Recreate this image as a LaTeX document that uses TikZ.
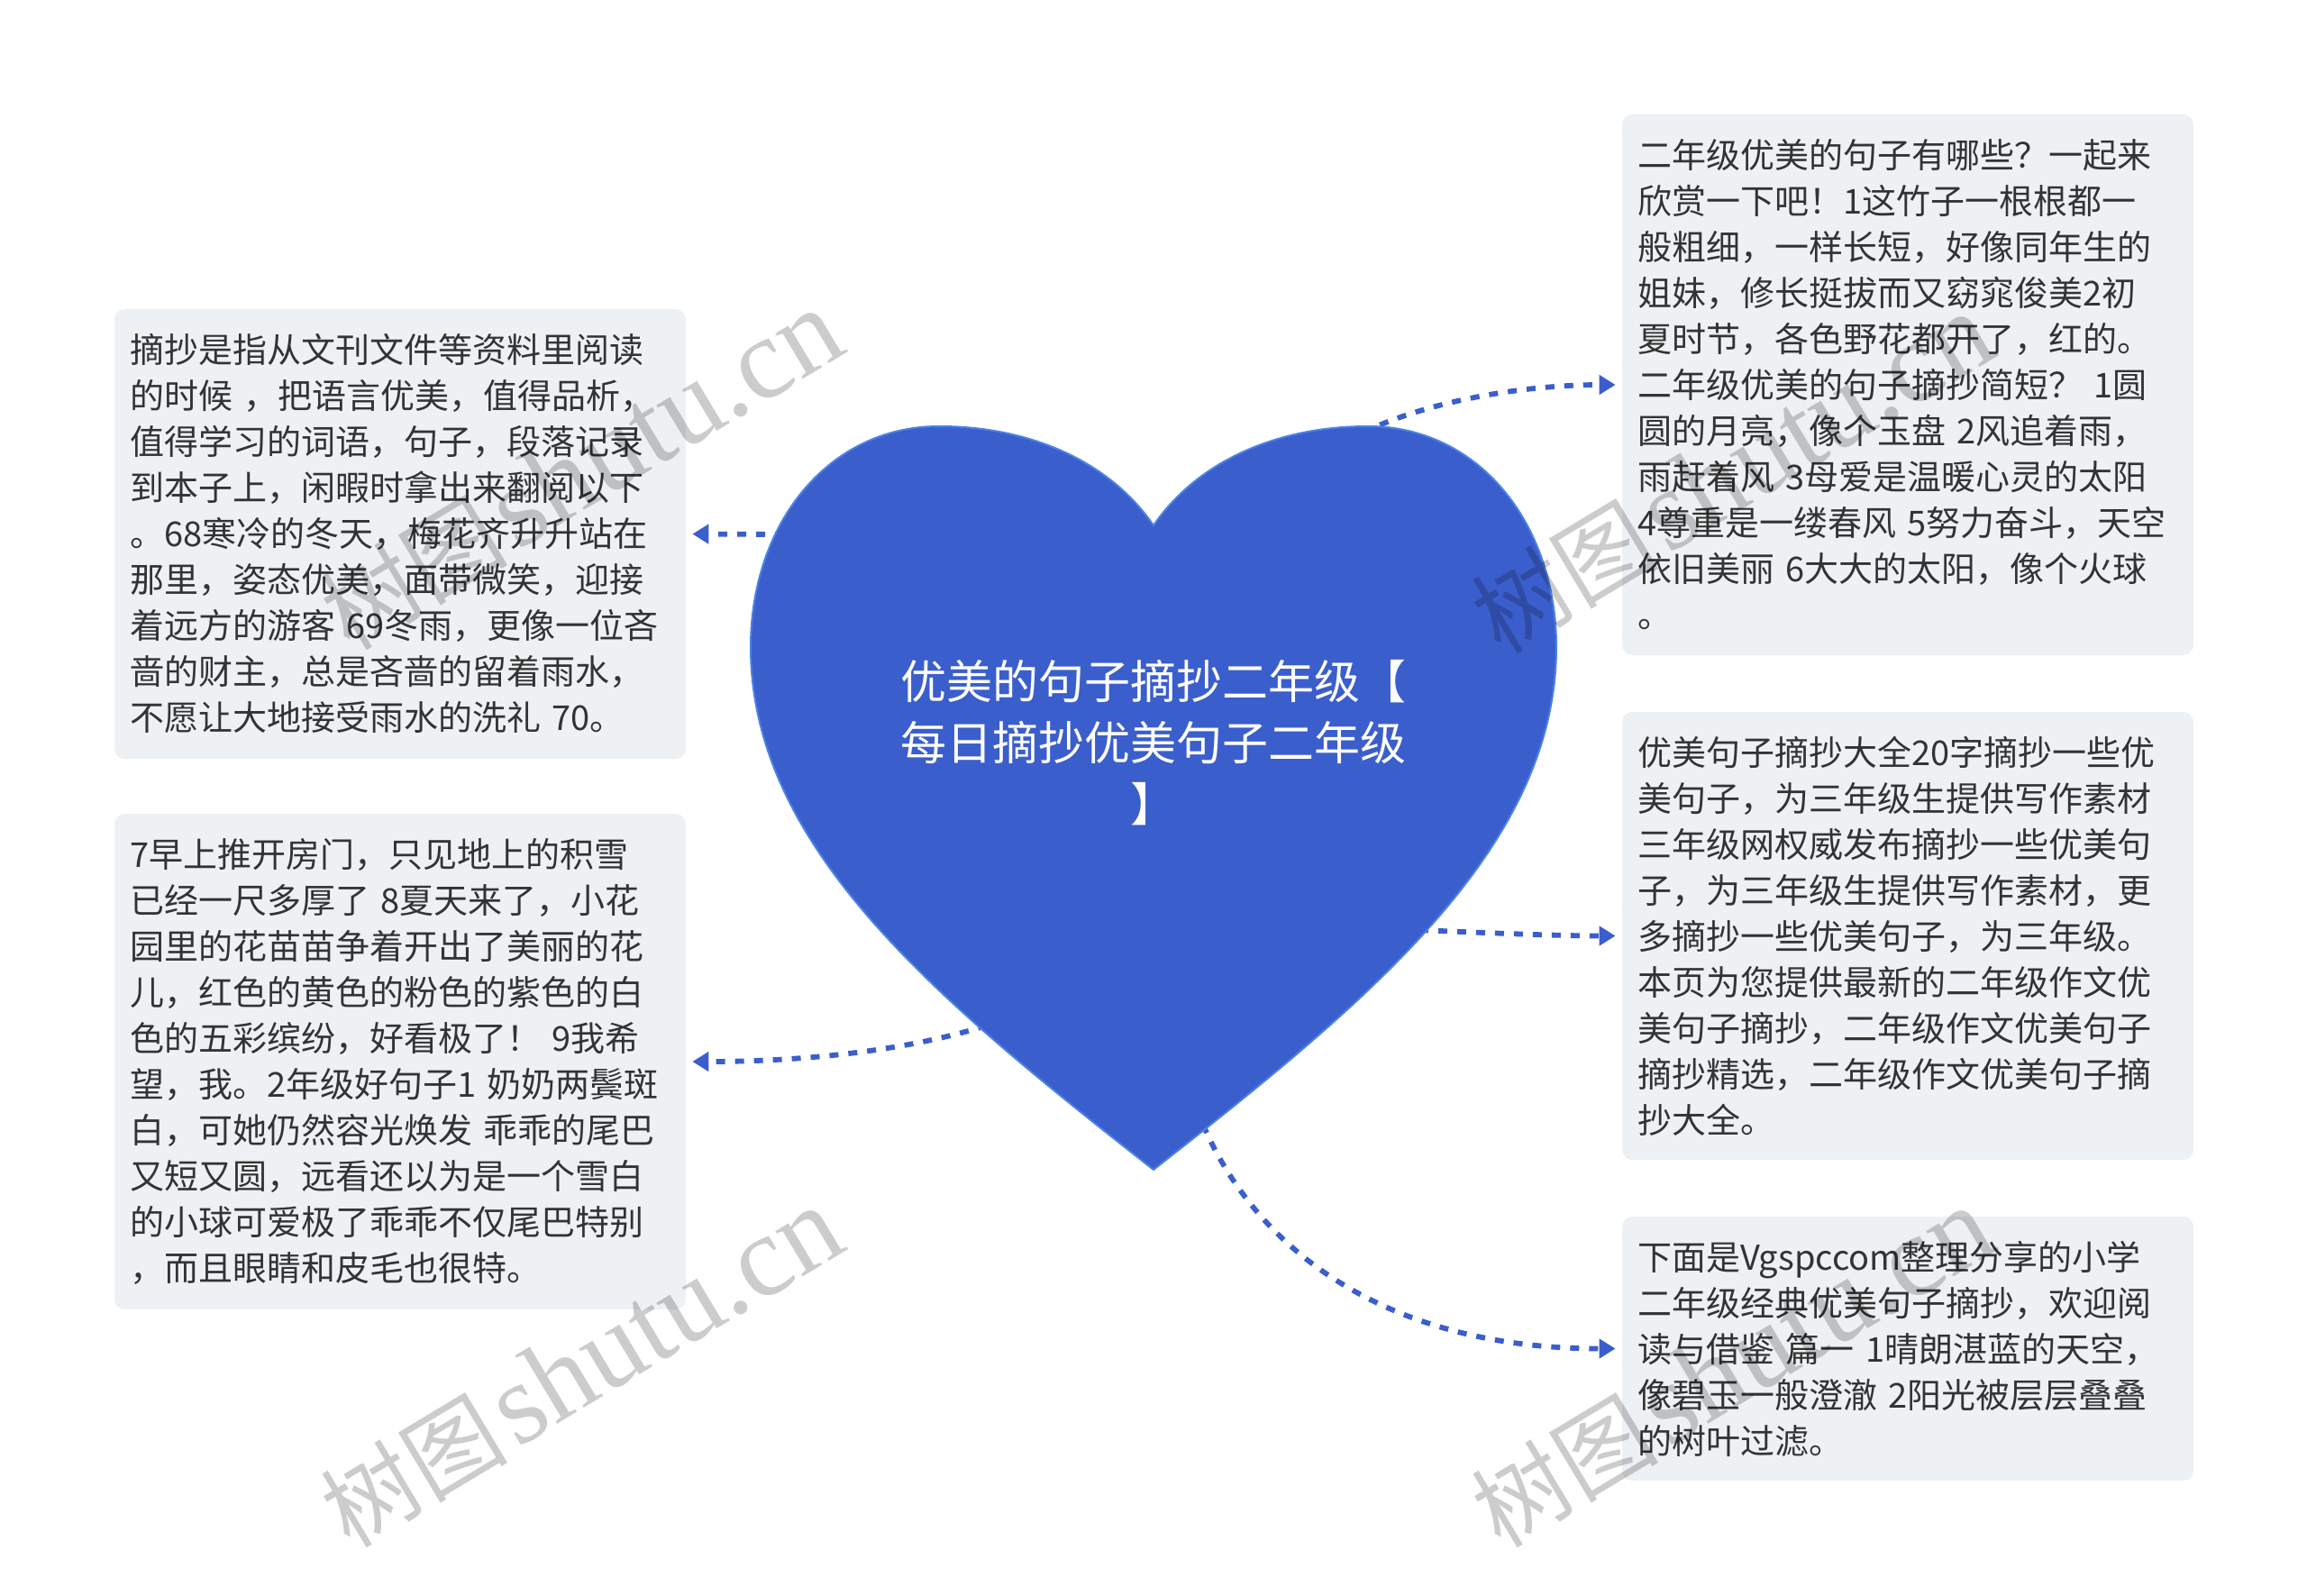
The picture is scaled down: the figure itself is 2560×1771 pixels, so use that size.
\documentclass[tikz,border=0pt]{standalone}
\usepackage{fontspec}
\setmainfont{Noto Sans CJK SC}
\newfontfamily\wmfont{Liberation Serif}
\usepackage{tikz}
\usetikzlibrary{arrows.meta,positioning}
\usepackage{xcolor}
\definecolor{heartblue}{HTML}{3B5ECD}
\definecolor{heartedge}{HTML}{4C82E6}
\definecolor{boxgray}{HTML}{EEF1F4}
\definecolor{textgray}{HTML}{333333}
\definecolor{wmgray}{HTML}{CCCCCC}

\begin{document}
\begin{tikzpicture}[x=0.5pt, y=-0.5pt, >={Triangle[length=9pt,width=10.5pt]},
    font=\fontsize{19}{25.5}\selectfont,
    box/.style={fill=boxgray, rounded corners=5.5pt, text=textgray, align=left,
      text width=300pt, inner xsep=8.5pt, inner ysep=0pt},
    conn/.style={->, heartblue, line width=2.9pt, dash pattern=on 5pt off 5.5pt,
      shorten >=3.5pt},
    wmark/.style={text=wmgray, inner sep=0pt}]
\useasboundingbox (0,0) rectangle (2560,1771);

\node[box, minimum height=249.5pt] (lt) at (444,592.5) {摘抄是指从文刊文件等资料里阅读\\
的时候 ，把语言优美，值得品析，\\
值得学习的词语，句子，段落记录\\
到本子上，闲暇时拿出来翻阅以下\\
。68寒冷的冬天，梅花齐升升站在\\
那里，姿态优美，面带微笑，迎接\\
着远方的游客 69冬雨，更像一位吝\\
啬的财主，总是吝啬的留着雨水，\\
不愿让大地接受雨水的洗礼 70。};
\node[box, minimum height=275pt] (lb) at (444,1178) {7早上推开房门，只见地上的积雪\\
已经一尺多厚了 8夏天来了，小花\\
园里的花苗苗争着开出了美丽的花\\
儿，红色的黄色的粉色的紫色的白\\
色的五彩缤纷，好看极了！ 9我希\\
望，我。2年级好句子1 奶奶两鬓斑\\
白，可她仍然容光焕发 乖乖的尾巴\\
又短又圆，远看还以为是一个雪白\\
的小球可爱极了乖乖不仅尾巴特别\\
，而且眼睛和皮毛也很特。};
\node[box, minimum height=300pt] (rt) at (2117,427) {二年级优美的句子有哪些？一起来\\
欣赏一下吧！1这竹子一根根都一\\
般粗细，一样长短，好像同年生的\\
姐妹，修长挺拔而又窈窕俊美2初\\
夏时节，各色野花都开了，红的。\\
二年级优美的句子摘抄简短？ 1圆\\
圆的月亮，像个玉盘 2风追着雨，\\
雨赶着风 3母爱是温暖心灵的太阳\\
4尊重是一缕春风 5努力奋斗，天空\\
依旧美丽 6大大的太阳，像个火球\\
。};
\node[box, minimum height=248.5pt] (rm) at (2117,1038.5) {优美句子摘抄大全20字摘抄一些优\\
美句子，为三年级生提供写作素材\\
三年级网权威发布摘抄一些优美句\\
子，为三年级生提供写作素材，更\\
多摘抄一些优美句子，为三年级。\\
本页为您提供最新的二年级作文优\\
美句子摘抄，二年级作文优美句子\\
摘抄精选，二年级作文优美句子摘\\
抄大全。};
\node[box, minimum height=146.5pt] (rb) at (2117,1496.5) {下面是Vgspccom整理分享的小学\\
二年级经典优美句子摘抄，欢迎阅\\
读与借鉴 篇一 1晴朗湛蓝的天空，\\
像碧玉一般澄澈 2阳光被层层叠叠\\
的树叶过滤。};

\coordinate (h1) at (1512,480);
\coordinate (h2) at (1575,1032);
\coordinate (h3) at (1335,1248);
\coordinate (h4) at (870,593);
\coordinate (h5) at (1095,1138);
\draw[conn] (h1) .. controls +(80,-38) and +(-100,0) .. (rt.west);
\draw[conn] (h2) .. controls +(70,3) and +(-70,0) .. (rm.west);
\draw[conn] (h3) .. controls +(60,140) and +(-260,0) .. (rb.west);
\draw[conn] (h4) -- (lt.east);
\draw[conn] (h5) .. controls +(-90,28) and +(130,0) .. (lb.east);

\fill[heartblue, draw=heartedge, line width=1pt]
  (1280,583) .. controls (1330,510) and (1420,473) .. (1518,473)
  .. controls (1640,473) and (1727,580) .. (1727,718)
  .. controls (1727,940) and (1520,1110) .. (1280,1298)
  .. controls (1040,1110) and (833,940) .. (833,718)
  .. controls (833,580) and (920,473) .. (1042,473)
  .. controls (1140,473) and (1230,510) .. cycle;
\node[text=white, align=center, font=\fontsize{25.5}{34}\selectfont] (root) at (1280,824)
  {优美的句子摘抄二年级【\\每日摘抄优美句子二年级\\】};

\begin{scope}[blend mode=multiply]
\node[wmark, rotate=31] (wm1) at (645,522) {{\fontsize{52}{52}\selectfont 树图} {\wmfont\fontsize{64}{64}\selectfont shutu.cn}};
\node[wmark, rotate=31] (wm2) at (645,1518) {{\fontsize{52}{52}\selectfont 树图} {\wmfont\fontsize{64}{64}\selectfont shutu.cn}};
\node[wmark, rotate=31] (wm3) at (1922,526) {{\fontsize{52}{52}\selectfont 树图} {\wmfont\fontsize{64}{64}\selectfont shutu.cn}};
\node[wmark, rotate=31] (wm4) at (1922,1518) {{\fontsize{52}{52}\selectfont 树图} {\wmfont\fontsize{64}{64}\selectfont shutu.cn}};
\end{scope}
\end{tikzpicture}
\end{document}
